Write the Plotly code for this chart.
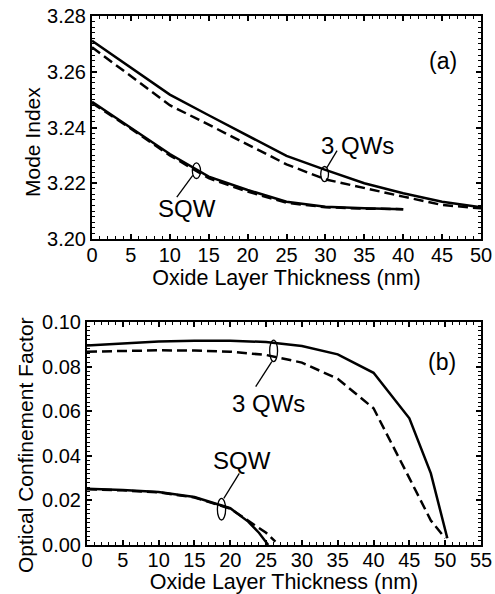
import plotly.graph_objects as go

# ---------------- data ----------------
# (a) Mode index vs oxide thickness
x_3qw_a = [0, 5, 10, 15, 20, 25, 30, 35, 40, 45, 50]
mode_3qw_solid = [3.2711, 3.2616, 3.2518, 3.2444, 3.2370, 3.2298, 3.2248, 3.2200, 3.2164, 3.2134, 3.2114]
mode_3qw_dash = [3.2688, 3.2585, 3.2480, 3.2410, 3.2340, 3.2268, 3.2214, 3.2182, 3.2152, 3.2122, 3.2110]
x_sqw_a = [0, 5, 10, 15, 20, 25, 30, 35, 40]
mode_sqw_solid = [3.2492, 3.2400, 3.2305, 3.2224, 3.2176, 3.2134, 3.2116, 3.2110, 3.2107]
mode_sqw_dash = [3.2488, 3.2396, 3.2300, 3.2218, 3.2170, 3.2130, 3.2114, 3.2109, 3.2107]

# (b) Optical confinement factor vs oxide thickness
x_3qw_b_solid = [0, 5, 10, 15, 20, 25, 30, 35, 40, 45, 48, 50.3]
conf_3qw_solid = [0.0895, 0.0903, 0.0912, 0.0916, 0.0916, 0.0910, 0.0892, 0.0855, 0.0772, 0.0568, 0.0321, 0.0030]
x_3qw_b_dash = [0, 5, 10, 15, 20, 25, 30, 35, 40, 45, 48, 50.0]
conf_3qw_dash = [0.0867, 0.0871, 0.0873, 0.0872, 0.0867, 0.0852, 0.0818, 0.0745, 0.0613, 0.0300, 0.0110, 0.0030]
x_sqw_b_solid = [0, 5, 10, 15, 20, 22.5, 24, 25, 25.3]
conf_sqw_solid = [0.0252, 0.0247, 0.0238, 0.0215, 0.0165, 0.0105, 0.0055, 0.0010, 0.0]
x_sqw_b_dash = [0, 5, 10, 15, 20, 22.5, 24, 25, 26.3]
conf_sqw_dash = [0.0250, 0.0245, 0.0236, 0.0213, 0.0163, 0.0110, 0.0080, 0.0055, 0.0015]

x_ticks_a = [0, 5, 10, 15, 20, 25, 30, 35, 40, 45, 50]
x_ticks_b = [0, 5, 10, 15, 20, 25, 30, 35, 40, 45, 50, 55]
y_ticks_a = [3.20, 3.22, 3.24, 3.26, 3.28]
y_ticks_b = [0.00, 0.02, 0.04, 0.06, 0.08, 0.10]

FONT = "Liberation Sans, Arial, Helvetica, sans-serif"
LW = 2.5
DASH = "10px,5px"
TICKSIZE = 20
XTITLESIZE = 21.5
YTITLESIZE = 21

fig = go.Figure()

def add(x, y, dash, xa, ya):
    fig.add_trace(go.Scatter(
        x=x, y=y, mode="lines", xaxis=xa, yaxis=ya, showlegend=False,
        line=dict(color="black", width=LW, dash=dash)))

add(x_3qw_a, mode_3qw_dash, DASH, "x", "y")
add(x_3qw_a, mode_3qw_solid, "solid", "x", "y")
add(x_sqw_a, mode_sqw_dash, DASH, "x", "y")
add(x_sqw_a, mode_sqw_solid, "solid", "x", "y")

add(x_3qw_b_dash, conf_3qw_dash, DASH, "x2", "y2")
add(x_3qw_b_solid, conf_3qw_solid, "solid", "x2", "y2")
add(x_sqw_b_dash, conf_sqw_dash, DASH, "x2", "y2")
add(x_sqw_b_solid, conf_sqw_solid, "solid", "x2", "y2")

H = 594
W = 495

def xaxis(domain, rng, ticks, anchor, lblstand, standoff):
    return dict(
        domain=domain, range=rng, anchor=anchor, automargin=False,
        tickmode="array", tickvals=ticks, ticktext=[str(t) for t in ticks],
        ticks="inside", ticklen=5, tickwidth=1.5, tickcolor="black",
        ticklabelstandoff=lblstand,
        minor=dict(dtick=1, ticks="inside", ticklen=3, tickwidth=1.2, tickcolor="black"),
        showline=True, linewidth=2, linecolor="black", mirror="allticks",
        showgrid=False, zeroline=False,
        tickfont=dict(family=FONT, size=TICKSIZE, color="black"),
        title=dict(text="Oxide Layer Thickness (nm)",
                   font=dict(family=FONT, size=XTITLESIZE, color="black"), standoff=standoff),
    )

def yaxis(domain, rng, ticks, fmt, anchor):
    return dict(
        domain=domain, range=rng, anchor=anchor, automargin=False,
        tickmode="array", tickvals=ticks, ticktext=[fmt.format(t) for t in ticks],
        ticks="inside", ticklen=5, tickwidth=1.5, tickcolor="black",
        minor=dict(dtick=0.002, ticks="inside", ticklen=3, tickwidth=1.2, tickcolor="black"),
        showline=True, linewidth=2, linecolor="black", mirror="allticks",
        showgrid=False, zeroline=False,
        tickfont=dict(family=FONT, size=TICKSIZE, color="black"),
    )

top_y = [1 - 239 / H, 1 - 16 / H]
bot_y = [1 - 545 / H, 1 - 322 / H]

fig.update_layout(
    width=W, height=H, autosize=False,
    margin=dict(l=0, r=0, t=0, b=0),
    paper_bgcolor="white", plot_bgcolor="white",
    font=dict(family=FONT, color="black"),
    xaxis=xaxis([92 / W, 481 / W], [0, 50], x_ticks_a, "y", -3, 2),
    yaxis=yaxis(top_y, [3.20, 3.28], y_ticks_a, "{:.2f}", "x"),
    xaxis2=xaxis([87 / W, 481 / W], [0, 55], x_ticks_b, "y2", -4, 4),
    yaxis2=yaxis(bot_y, [0.0, 0.10], y_ticks_b, "{:.2f}", "x2"),
)

# y-axis titles (rotated text)
fig.add_annotation(text="Mode Index", x=32 / W, y=1 - 142 / H, xref="paper", yref="paper",
                   showarrow=False, textangle=-90, xanchor="center", yanchor="middle",
                   font=dict(family=FONT, size=YTITLESIZE, color="black"))
fig.add_annotation(text="Optical Confinement Factor", x=25 / W, y=1 - 445 / H,
                   xref="paper", yref="paper",
                   showarrow=False, textangle=-90, xanchor="center", yanchor="middle",
                   font=dict(family=FONT, size=YTITLESIZE, color="black"))

# labels
def label(text, x, y, xr, yr, size=24):
    fig.add_annotation(text=text, x=x, y=y, xref=xr, yref=yr, showarrow=False,
                       font=dict(family=FONT, size=size, color="black"),
                       xanchor="center", yanchor="middle")

label("SQW", 12.2, 3.2110, "x", "y")
label("3 QWs", 34.1, 3.2335, "x", "y")
label("(a)", 45.06, 3.2640, "x", "y", 23)
label("3 QWs", 25.3, 0.0635, "x2", "y2")
label("SQW", 21.6, 0.0378, "x2", "y2")
label("(b)", 49.5, 0.0822, "x2", "y2", 23)

# ellipses and pointer lines
def ellipse(x0, x1, y0, y1, xr, yr):
    fig.add_shape(type="circle", x0=x0, x1=x1, y0=y0, y1=y1, xref=xr, yref=yr,
                  line=dict(color="black", width=1.3), fillcolor="rgba(0,0,0,0)")

def seg(x0, y0, x1, y1, xr, yr):
    fig.add_shape(type="line", x0=x0, y0=y0, x1=x1, y1=y1, xref=xr, yref=yr,
                  line=dict(color="black", width=1.3))

ellipse(12.9, 13.95, 3.2217, 3.2273, "x", "y")
seg(12.95, 3.2228, 10.9, 3.2150, "x", "y")
ellipse(29.4, 30.4, 3.2206, 3.2260, "x", "y")
seg(30.15, 3.2254, 31.5, 3.2317, "x", "y")

ellipse(25.5, 26.6, 0.0822, 0.0919, "x2", "y2")
seg(25.8, 0.0822, 23.55, 0.0710, "x2", "y2")
ellipse(18.2, 19.35, 0.0112, 0.0209, "x2", "y2")
seg(19.1, 0.0209, 21.26, 0.0321, "x2", "y2")

fig.write_html("out.html")
